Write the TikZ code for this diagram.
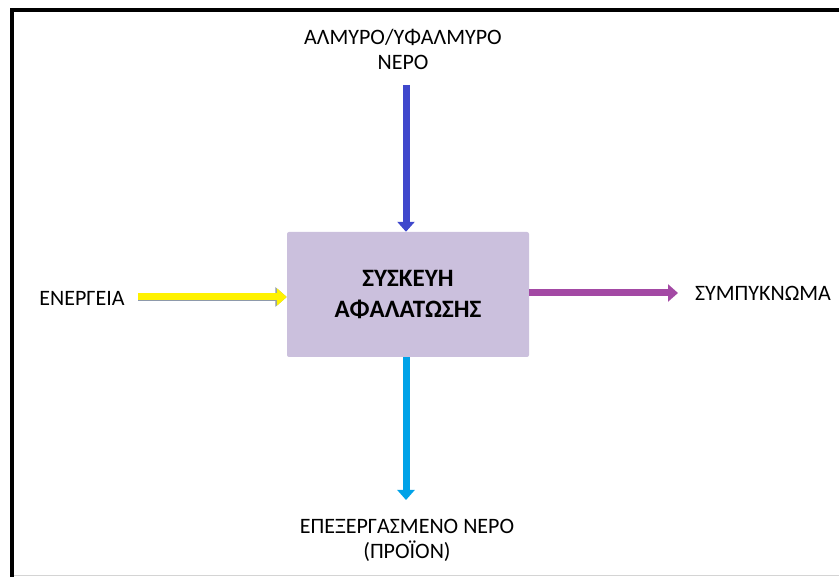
\documentclass[tikz,border=0pt]{standalone}
\usepackage{fontspec}
\setmainfont{Carlito}
\usepackage{xcolor}
\usetikzlibrary{arrows.meta,positioning}
\definecolor{frameink}{HTML}{000000}
\definecolor{boxfill}{HTML}{CBC0DD}
\definecolor{seablue}{HTML}{3F48CC}
\definecolor{power}{HTML}{FFF200}
\definecolor{powerrim}{HTML}{8E9AAB}
\definecolor{brine}{HTML}{A349A4}
\definecolor{fresh}{HTML}{00A2E8}
\definecolor{rule}{HTML}{D4D4D4}

\begin{document}
\begin{tikzpicture}[x=1pt, y=1pt, font=\fontsize{22}{25}\selectfont,
    flow/.style={line width=7pt, -{Triangle[length=10pt, width=17pt]}},
    label/.style={align=center, inner sep=0pt}]
    \useasboundingbox (0,0) rectangle (839,577);
    % Frame round the sheet.
    \draw[rule, line width=0.8pt] (12,2) -- (839,2);
    \draw[frameink, line width=4pt] (12,0) -- (12,567) -- (839,567);
    % The unit in the middle.
    \node[fill=boxfill, rounded corners=2pt, minimum width=242, minimum height=125,
      align=center, font=\fontsize{25}{31}\selectfont\bfseries] (unit) at (408,282.5)
      {ΣΥΣΚΕΥΗ\\ΑΦΑΛΑΤΩΣΗΣ};
    % Texts round it.
    \node[label] (feed) at (403,528) {ΑΛΜΥΡΟ/ΥΦΑΛΜΥΡΟ\\ΝΕΡΟ};
    \node[label] (energy) at (82,279) {ΕΝΕΡΓΕΙΑ};
    \node[label] (conc) at (763,284) {ΣΥΜΠΥΚΝΩΜΑ};
    \node[label] (product) at (407,37) {ΕΠΕΞΕΡΓΑΣΜΕΝΟ ΝΕΡΟ\\(ΠΡΟΪΟΝ)};
    % Free ends of the arrows.
    \coordinate (feedend) at (406,492);
    \coordinate (energyend) at (138,280);
    \coordinate (concend) at (678,284);
    \coordinate (productend) at (406,77);
    % The four flows.
    \draw[flow, seablue] (feedend) -- (feedend |- unit.north);
    \draw[flow, power, preaction={draw=powerrim, line width=8.6pt,
      -{Triangle[length=11.5pt, width=19pt]}}] (energyend) -- (energyend -| unit.west);
    \draw[flow, brine] (concend -| unit.east) -- (concend);
    \draw[flow, fresh] (productend |- unit.south) -- (productend);
\end{tikzpicture}
\end{document}
